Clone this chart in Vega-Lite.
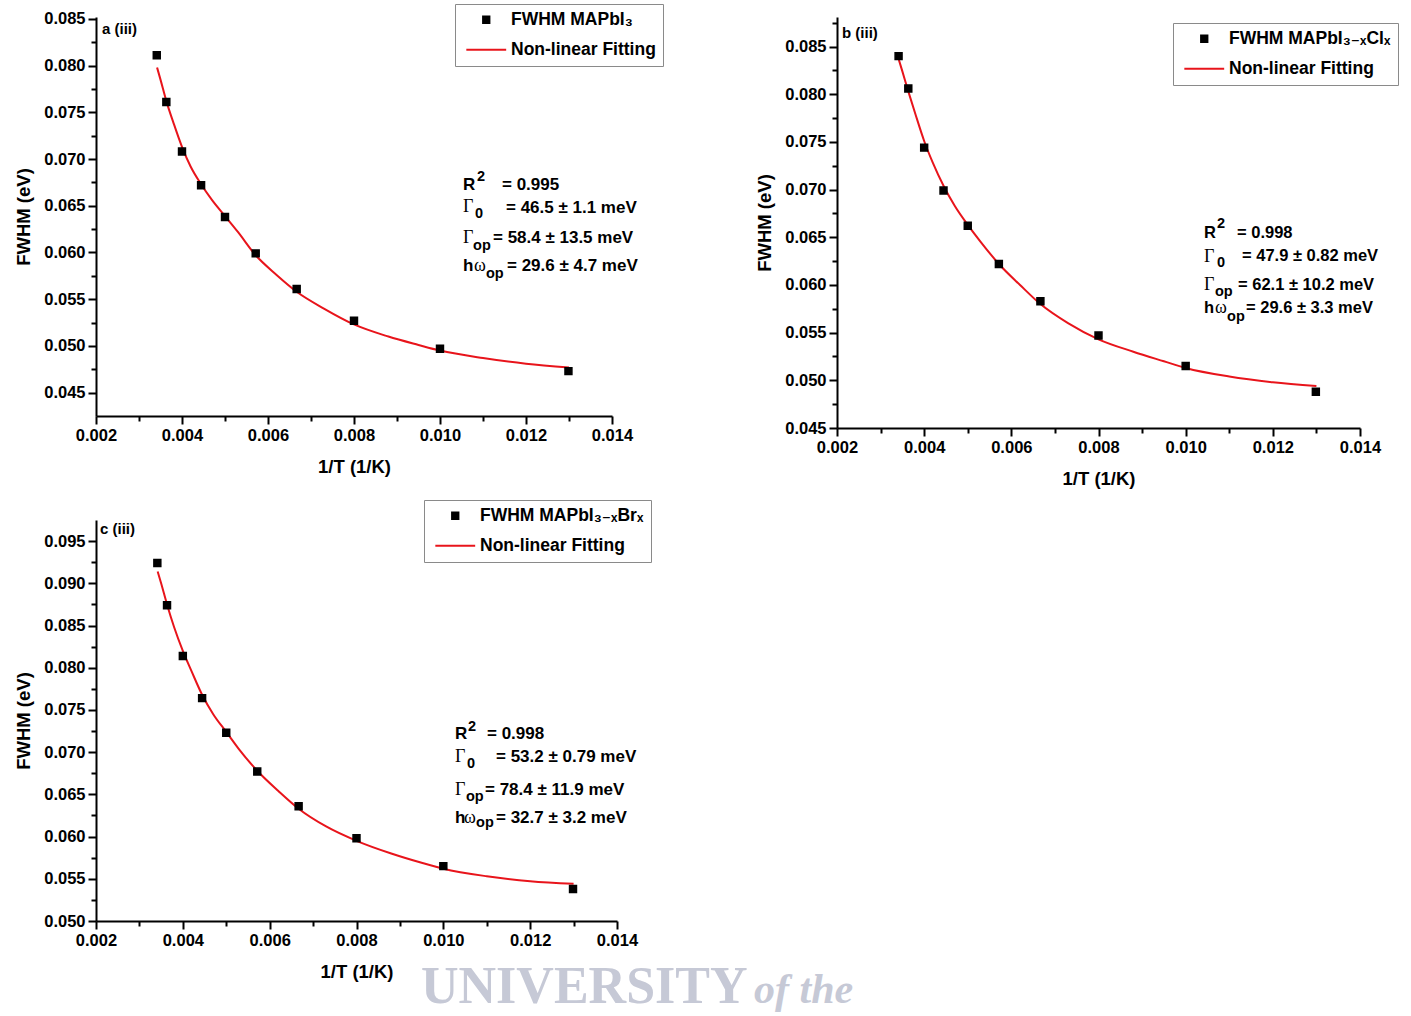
{
"$schema":"https://vega.github.io/schema/vega-lite/v6.json",
"background":"white",
"padding":{"left":14,"top":3,"right":0,"bottom":0},
"bounds":"flush",
"columns":2,
"spacing":{"row":92,"column":220},
"resolve":{"scale":{"color":"independent","stroke":"independent","shape":"independent"},"legend":{"color":"independent","stroke":"independent","shape":"independent"}},
"config":{
 "view":{"stroke":null},
 "axis":{"labelFont":"Liberation Sans","labelFontWeight":"bold","labelFontSize":16.5,"labelColor":"black","titleFont":"Liberation Sans","titleFontWeight":"bold","titleFontSize":18.5,"titleColor":"black","domainColor":"black","domainWidth":2,"tickColor":"black","tickWidth":2,"tickSize":8,"grid":false,"labelPadding":3,"labelFlush":false,"labelOverlap":false},
 "axisX":{"titlePadding":14},
 "axisY":{"titlePadding":10},
 "legend":{"labelFont":"Liberation Sans, DejaVu Sans","labelFontSize":17.5,"labelFontWeight":"bold","labelColor":"black","strokeColor":"#8a8a8a","fillColor":"white","padding":7,"symbolSize":40,"symbolStrokeWidth":2,"symbolOffset":15.5,"labelOffset":16,"rowPadding":11,"labelLimit":400}
},
"datasets":{
 "pa":[{"x":0.003413,"y":0.0811,"s":"FWHM MAPbI₃"},{"x":0.003636,"y":0.0761,"s":"FWHM MAPbI₃"},{"x":0.004,"y":0.0708,"s":"FWHM MAPbI₃"},{"x":0.004444,"y":0.0672,"s":"FWHM MAPbI₃"},{"x":0.005,"y":0.0638,"s":"FWHM MAPbI₃"},{"x":0.005714,"y":0.0599,"s":"FWHM MAPbI₃"},{"x":0.006667,"y":0.0561,"s":"FWHM MAPbI₃"},{"x":0.008,"y":0.0527,"s":"FWHM MAPbI₃"},{"x":0.01,"y":0.0497,"s":"FWHM MAPbI₃"},{"x":0.012987,"y":0.0473,"s":"FWHM MAPbI₃"}],
 "pb":[{"x":0.003413,"y":0.0840,"s":"FWHM MAPbI₃₋ₓClₓ"},{"x":0.003636,"y":0.0806,"s":"FWHM MAPbI₃₋ₓClₓ"},{"x":0.004,"y":0.0744,"s":"FWHM MAPbI₃₋ₓClₓ"},{"x":0.004444,"y":0.0699,"s":"FWHM MAPbI₃₋ₓClₓ"},{"x":0.005,"y":0.0662,"s":"FWHM MAPbI₃₋ₓClₓ"},{"x":0.005714,"y":0.0622,"s":"FWHM MAPbI₃₋ₓClₓ"},{"x":0.006667,"y":0.0583,"s":"FWHM MAPbI₃₋ₓClₓ"},{"x":0.008,"y":0.0547,"s":"FWHM MAPbI₃₋ₓClₓ"},{"x":0.01,"y":0.0515,"s":"FWHM MAPbI₃₋ₓClₓ"},{"x":0.012987,"y":0.0488,"s":"FWHM MAPbI₃₋ₓClₓ"}],
 "pc":[{"x":0.003413,"y":0.0924,"s":"FWHM MAPbI₃₋ₓBrₓ"},{"x":0.003636,"y":0.0874,"s":"FWHM MAPbI₃₋ₓBrₓ"},{"x":0.004,"y":0.0814,"s":"FWHM MAPbI₃₋ₓBrₓ"},{"x":0.004444,"y":0.0764,"s":"FWHM MAPbI₃₋ₓBrₓ"},{"x":0.005,"y":0.0723,"s":"FWHM MAPbI₃₋ₓBrₓ"},{"x":0.005714,"y":0.0677,"s":"FWHM MAPbI₃₋ₓBrₓ"},{"x":0.006667,"y":0.0636,"s":"FWHM MAPbI₃₋ₓBrₓ"},{"x":0.008,"y":0.0598,"s":"FWHM MAPbI₃₋ₓBrₓ"},{"x":0.01,"y":0.0565,"s":"FWHM MAPbI₃₋ₓBrₓ"},{"x":0.012987,"y":0.0538,"s":"FWHM MAPbI₃₋ₓBrₓ"}],
 "fa":[{"x":0.00342,"y":0.0798},{"x":0.0035,"y":0.0785},{"x":0.003636,"y":0.0762},{"x":0.0038,"y":0.0739},{"x":0.004,"y":0.0713},{"x":0.0042,"y":0.0692},{"x":0.004444,"y":0.0673},{"x":0.0047,"y":0.0656},{"x":0.005,"y":0.0639},{"x":0.0053,"y":0.0622},{"x":0.005714,"y":0.0597},{"x":0.0062,"y":0.0576},{"x":0.006667,"y":0.0558},{"x":0.0073,"y":0.0540},{"x":0.008,"y":0.0523},{"x":0.0088,"y":0.0510},{"x":0.0095,"y":0.0501},{"x":0.010,"y":0.0495},{"x":0.011,"y":0.0487},{"x":0.012,"y":0.0481},{"x":0.013,"y":0.0477}],
 "fb":[{"x":0.00342,"y":0.0836},{"x":0.0035,"y":0.0824},{"x":0.003636,"y":0.0803},{"x":0.0038,"y":0.0779},{"x":0.004,"y":0.0751},{"x":0.0042,"y":0.0728},{"x":0.004444,"y":0.0704},{"x":0.0047,"y":0.0683},{"x":0.005,"y":0.0663},{"x":0.0053,"y":0.0645},{"x":0.005714,"y":0.0622},{"x":0.0062,"y":0.0600},{"x":0.006667,"y":0.0580},{"x":0.0073,"y":0.0560},{"x":0.008,"y":0.0543},{"x":0.0088,"y":0.0530},{"x":0.0095,"y":0.0520},{"x":0.010,"y":0.0513},{"x":0.011,"y":0.0504},{"x":0.012,"y":0.0498},{"x":0.013,"y":0.0494}],
 "fc":[{"x":0.00342,"y":0.0914},{"x":0.0035,"y":0.0900},{"x":0.003636,"y":0.0875},{"x":0.0038,"y":0.0848},{"x":0.004,"y":0.0820},{"x":0.0042,"y":0.0796},{"x":0.004444,"y":0.0768},{"x":0.0047,"y":0.0745},{"x":0.005,"y":0.0724},{"x":0.0053,"y":0.0703},{"x":0.005714,"y":0.0678},{"x":0.0062,"y":0.0654},{"x":0.006667,"y":0.0633},{"x":0.0073,"y":0.0612},{"x":0.008,"y":0.0595},{"x":0.0088,"y":0.0580},{"x":0.0095,"y":0.0569},{"x":0.010,"y":0.0562},{"x":0.011,"y":0.0553},{"x":0.012,"y":0.0547},{"x":0.013,"y":0.0544}],
 "ta":[{"x":0.00214,"y":0.08343,"t":"a (iii)","f":"lab"},{"x":0.010535,"y":0.066723,"t":"R","f":"sans"},{"x":0.010861,"y":0.067687,"t":"2","f":"sub"},{"x":0.011442,"y":0.066723,"t":"= 0.995","f":"sans"},{"x":0.010535,"y":0.064368,"t":"Γ","f":"serif"},{"x":0.010814,"y":0.063725,"t":"0","f":"sub"},{"x":0.011535,"y":0.064261,"t":"= 46.5 ± 1.1 meV","f":"sans"},{"x":0.010535,"y":0.061048,"t":"Γ","f":"serif"},{"x":0.010768,"y":0.060298,"t":"op","f":"sub"},{"x":0.011232,"y":0.061048,"t":"= 58.4 ± 13.5 meV","f":"sans"},{"x":0.010535,"y":0.05805,"t":"h","f":"sans"},{"x":0.010791,"y":0.05805,"t":"ω","f":"serif"},{"x":0.01107,"y":0.0573,"t":"op","f":"sub"},{"x":0.011558,"y":0.05805,"t":"= 29.6 ± 4.7 meV","f":"sans"}],
 "tb":[{"x":0.002115,"y":0.085944,"t":"b (iii)","f":"lab"},{"x":0.010421,"y":0.064962,"t":"R","f":"sans"},{"x":0.010719,"y":0.066011,"t":"2","f":"sub"},{"x":0.011178,"y":0.064962,"t":"= 0.998","f":"sans"},{"x":0.010421,"y":0.062444,"t":"Γ","f":"serif"},{"x":0.010719,"y":0.06192,"t":"0","f":"sub"},{"x":0.011293,"y":0.062549,"t":"= 47.9 ± 0.82 meV","f":"sans"},{"x":0.010421,"y":0.059507,"t":"Γ","f":"serif"},{"x":0.010673,"y":0.058877,"t":"op","f":"sub"},{"x":0.011201,"y":0.059507,"t":"= 62.1 ± 10.2 meV","f":"sans"},{"x":0.010421,"y":0.057094,"t":"h","f":"sans"},{"x":0.010673,"y":0.057094,"t":"ω","f":"serif"},{"x":0.010949,"y":0.056255,"t":"op","f":"sub"},{"x":0.011385,"y":0.057094,"t":"= 29.6 ± 3.3 meV","f":"sans"}],
 "tc":[{"x":0.002092,"y":0.095793,"t":"c (iii)","f":"lab"},{"x":0.010269,"y":0.071515,"t":"R","f":"sans"},{"x":0.010568,"y":0.072498,"t":"2","f":"sub"},{"x":0.011006,"y":0.071515,"t":"= 0.998","f":"sans"},{"x":0.010269,"y":0.0688,"t":"Γ","f":"serif"},{"x":0.010545,"y":0.068117,"t":"0","f":"sub"},{"x":0.011213,"y":0.0688,"t":"= 53.2 ± 0.79 meV","f":"sans"},{"x":0.010269,"y":0.064883,"t":"Γ","f":"serif"},{"x":0.010522,"y":0.064208,"t":"op","f":"sub"},{"x":0.010960,"y":0.064883,"t":"= 78.4 ± 11.9 meV","f":"sans"},{"x":0.010269,"y":0.06165,"t":"h","f":"sans"},{"x":0.010476,"y":0.06165,"t":"ω","f":"serif"},{"x":0.010753,"y":0.061176,"t":"op","f":"sub"},{"x":0.011213,"y":0.06165,"t":"= 32.7 ± 3.2 meV","f":"sans"},{"x":0.009486,"y":0.040251,"t":"UNIVERSITY","f":"wm"},{"x":0.017156,"y":0.040251,"t":"of the","f":"wmi"}]
},
"concat":[
 {
  "width":516,"height":399,
  "resolve":{"axis":{"x":"independent","y":"independent"}},
  "layer":[
   {"data":{"name":"fa"},"mark":{"type":"line","color":"#e8141b","strokeWidth":2,"interpolate":"monotone"},
    "encoding":{
     "x":{"field":"x","type":"quantitative","scale":{"domain":[0.002,0.014],"nice":false,"zero":false},"axis":{"orient":"bottom","values":[0.003,0.005,0.007,0.009,0.011,0.013],"labels":false,"domain":false,"tickSize":5,"title":null}},
     "y":{"field":"y","type":"quantitative","scale":{"domain":[0.0425,0.0852],"nice":false,"zero":false},"axis":{"orient":"left","values":[0.0475,0.0525,0.0575,0.0625,0.0675,0.0725,0.0775,0.0825],"labels":false,"domain":false,"tickSize":5,"title":null}}}},
   {"data":{"name":"pa"},"mark":{"type":"point","filled":true,"size":48,"strokeWidth":1.5,"opacity":1},
    "encoding":{
     "x":{"field":"x","type":"quantitative","scale":{"domain":[0.002,0.014],"nice":false,"zero":false},"axis":{"orient":"bottom","values":[0.002,0.004,0.006,0.008,0.01,0.012,0.014],"format":".3f","title":"1/T (1/K)"}},
     "y":{"field":"y","type":"quantitative","scale":{"domain":[0.0425,0.0852],"nice":false,"zero":false},"axis":{"orient":"left","values":[0.045,0.05,0.055,0.06,0.065,0.07,0.075,0.08,0.085],"format":".3f","title":"FWHM (eV)"}},
     "color":{"field":"s","type":"nominal","scale":{"domain":["FWHM MAPbI₃","Non-linear Fitting"],"range":["black","#e8141b"]},"legend":{"orient":"none","legendX":359,"legendY":-13,"title":null}},
     "stroke":{"field":"s","type":"nominal","scale":{"domain":["FWHM MAPbI₃","Non-linear Fitting"],"range":["black","#e8141b"]},"legend":{"orient":"none","legendX":359,"legendY":-13,"title":null}},
     "shape":{"field":"s","type":"nominal","scale":{"domain":["FWHM MAPbI₃","Non-linear Fitting"],"range":["square","M-6.3,0H6.3"]},"legend":{"orient":"none","legendX":359,"legendY":-13,"title":null}}}},
   {"data":{"name":"ta"},"transform":[{"filter":"datum.f==='sans'"}],"mark":{"type":"text","align":"left","baseline":"alphabetic","font":"Liberation Sans","fontWeight":"bold","fontSize":17,"color":"black"},
    "encoding":{"x":{"field":"x","type":"quantitative","scale":{"domain":[0.002,0.014],"nice":false,"zero":false},"axis":null},"y":{"field":"y","type":"quantitative","scale":{"domain":[0.0425,0.0852],"nice":false,"zero":false},"axis":null},"text":{"field":"t"}}},
   {"data":{"name":"ta"},"transform":[{"filter":"datum.f==='sub'"}],"mark":{"type":"text","align":"left","baseline":"alphabetic","font":"Liberation Sans","fontWeight":"bold","fontSize":14.5,"color":"black"},
    "encoding":{"x":{"field":"x","type":"quantitative","scale":{"domain":[0.002,0.014],"nice":false,"zero":false},"axis":null},"y":{"field":"y","type":"quantitative","scale":{"domain":[0.0425,0.0852],"nice":false,"zero":false},"axis":null},"text":{"field":"t"}}},
   {"data":{"name":"ta"},"transform":[{"filter":"datum.f==='serif'"}],"mark":{"type":"text","align":"left","baseline":"alphabetic","font":"Liberation Serif","fontWeight":"normal","fontSize":18,"color":"black"},
    "encoding":{"x":{"field":"x","type":"quantitative","scale":{"domain":[0.002,0.014],"nice":false,"zero":false},"axis":null},"y":{"field":"y","type":"quantitative","scale":{"domain":[0.0425,0.0852],"nice":false,"zero":false},"axis":null},"text":{"field":"t"}}},
   {"data":{"name":"ta"},"transform":[{"filter":"datum.f==='lab'"}],"mark":{"type":"text","align":"left","baseline":"alphabetic","font":"Liberation Sans","fontWeight":"bold","fontSize":15,"color":"black"},
    "encoding":{"x":{"field":"x","type":"quantitative","scale":{"domain":[0.002,0.014],"nice":false,"zero":false},"axis":null},"y":{"field":"y","type":"quantitative","scale":{"domain":[0.0425,0.0852],"nice":false,"zero":false},"axis":null},"text":{"field":"t"}}}
  ]
 },
 {
  "width":523,"height":411,
  "resolve":{"axis":{"x":"independent","y":"independent"}},
  "layer":[
   {"data":{"name":"fb"},"mark":{"type":"line","color":"#e8141b","strokeWidth":2,"interpolate":"monotone"},
    "encoding":{
     "x":{"field":"x","type":"quantitative","scale":{"domain":[0.002,0.014],"nice":false,"zero":false},"axis":{"orient":"bottom","values":[0.003,0.005,0.007,0.009,0.011,0.013],"labels":false,"domain":false,"tickSize":5,"title":null}},
     "y":{"field":"y","type":"quantitative","scale":{"domain":[0.045,0.0881],"nice":false,"zero":false},"axis":{"orient":"left","values":[0.0475,0.0525,0.0575,0.0625,0.0675,0.0725,0.0775,0.0825,0.0875],"labels":false,"domain":false,"tickSize":5,"title":null}}}},
   {"data":{"name":"pb"},"mark":{"type":"point","filled":true,"size":48,"strokeWidth":1.5,"opacity":1},
    "encoding":{
     "x":{"field":"x","type":"quantitative","scale":{"domain":[0.002,0.014],"nice":false,"zero":false},"axis":{"orient":"bottom","values":[0.002,0.004,0.006,0.008,0.01,0.012,0.014],"format":".3f","title":"1/T (1/K)"}},
     "y":{"field":"y","type":"quantitative","scale":{"domain":[0.045,0.0881],"nice":false,"zero":false},"axis":{"orient":"left","values":[0.045,0.05,0.055,0.06,0.065,0.07,0.075,0.08,0.085],"format":".3f","title":"FWHM (eV)"}},
     "color":{"field":"s","type":"nominal","scale":{"domain":["FWHM MAPbI₃₋ₓClₓ","Non-linear Fitting"],"range":["black","#e8141b"]},"legend":{"orient":"none","legendX":336,"legendY":6,"title":null}},
     "stroke":{"field":"s","type":"nominal","scale":{"domain":["FWHM MAPbI₃₋ₓClₓ","Non-linear Fitting"],"range":["black","#e8141b"]},"legend":{"orient":"none","legendX":336,"legendY":6,"title":null}},
     "shape":{"field":"s","type":"nominal","scale":{"domain":["FWHM MAPbI₃₋ₓClₓ","Non-linear Fitting"],"range":["square","M-6.3,0H6.3"]},"legend":{"orient":"none","legendX":336,"legendY":6,"title":null}}}},
   {"data":{"name":"tb"},"transform":[{"filter":"datum.f==='sans'"}],"mark":{"type":"text","align":"left","baseline":"alphabetic","font":"Liberation Sans","fontWeight":"bold","fontSize":16.5,"color":"black"},
    "encoding":{"x":{"field":"x","type":"quantitative","scale":{"domain":[0.002,0.014],"nice":false,"zero":false},"axis":null},"y":{"field":"y","type":"quantitative","scale":{"domain":[0.045,0.0881],"nice":false,"zero":false},"axis":null},"text":{"field":"t"}}},
   {"data":{"name":"tb"},"transform":[{"filter":"datum.f==='sub'"}],"mark":{"type":"text","align":"left","baseline":"alphabetic","font":"Liberation Sans","fontWeight":"bold","fontSize":14.5,"color":"black"},
    "encoding":{"x":{"field":"x","type":"quantitative","scale":{"domain":[0.002,0.014],"nice":false,"zero":false},"axis":null},"y":{"field":"y","type":"quantitative","scale":{"domain":[0.045,0.0881],"nice":false,"zero":false},"axis":null},"text":{"field":"t"}}},
   {"data":{"name":"tb"},"transform":[{"filter":"datum.f==='serif'"}],"mark":{"type":"text","align":"left","baseline":"alphabetic","font":"Liberation Serif","fontWeight":"normal","fontSize":18,"color":"black"},
    "encoding":{"x":{"field":"x","type":"quantitative","scale":{"domain":[0.002,0.014],"nice":false,"zero":false},"axis":null},"y":{"field":"y","type":"quantitative","scale":{"domain":[0.045,0.0881],"nice":false,"zero":false},"axis":null},"text":{"field":"t"}}},
   {"data":{"name":"tb"},"transform":[{"filter":"datum.f==='lab'"}],"mark":{"type":"text","align":"left","baseline":"alphabetic","font":"Liberation Sans","fontWeight":"bold","fontSize":15,"color":"black"},
    "encoding":{"x":{"field":"x","type":"quantitative","scale":{"domain":[0.002,0.014],"nice":false,"zero":false},"axis":null},"y":{"field":"y","type":"quantitative","scale":{"domain":[0.045,0.0881],"nice":false,"zero":false},"axis":null},"text":{"field":"t"}}}
  ]
 },
 {
  "width":521,"height":401,
  "resolve":{"axis":{"x":"independent","y":"independent"}},
  "layer":[
   {"data":{"name":"tc"},"transform":[{"filter":"datum.f==='wm'"}],"mark":{"type":"text","align":"left","baseline":"alphabetic","font":"Liberation Serif","fontWeight":"bold","fontSize":52,"color":"#c6c9d6"},
    "encoding":{"x":{"field":"x","type":"quantitative","scale":{"domain":[0.002,0.014],"nice":false,"zero":false},"axis":null},"y":{"field":"y","type":"quantitative","scale":{"domain":[0.05,0.0975],"nice":false,"zero":false},"axis":null},"text":{"field":"t"}}},
   {"data":{"name":"tc"},"transform":[{"filter":"datum.f==='wmi'"}],"mark":{"type":"text","align":"left","baseline":"alphabetic","font":"Liberation Serif","fontWeight":"bold","fontStyle":"italic","fontSize":42,"color":"#c6c9d6"},
    "encoding":{"x":{"field":"x","type":"quantitative","scale":{"domain":[0.002,0.014],"nice":false,"zero":false},"axis":null},"y":{"field":"y","type":"quantitative","scale":{"domain":[0.05,0.0975],"nice":false,"zero":false},"axis":null},"text":{"field":"t"}}},
   {"data":{"name":"fc"},"mark":{"type":"line","color":"#e8141b","strokeWidth":2,"interpolate":"monotone"},
    "encoding":{
     "x":{"field":"x","type":"quantitative","scale":{"domain":[0.002,0.014],"nice":false,"zero":false},"axis":{"orient":"bottom","values":[0.003,0.005,0.007,0.009,0.011,0.013],"labels":false,"domain":false,"tickSize":5,"title":null}},
     "y":{"field":"y","type":"quantitative","scale":{"domain":[0.05,0.0975],"nice":false,"zero":false},"axis":{"orient":"left","values":[0.0525,0.0575,0.0625,0.0675,0.0725,0.0775,0.0825,0.0875,0.0925],"labels":false,"domain":false,"tickSize":5,"title":null}}}},
   {"data":{"name":"pc"},"mark":{"type":"point","filled":true,"size":48,"strokeWidth":1.5,"opacity":1},
    "encoding":{
     "x":{"field":"x","type":"quantitative","scale":{"domain":[0.002,0.014],"nice":false,"zero":false},"axis":{"orient":"bottom","values":[0.002,0.004,0.006,0.008,0.01,0.012,0.014],"format":".3f","title":"1/T (1/K)"}},
     "y":{"field":"y","type":"quantitative","scale":{"domain":[0.05,0.0975],"nice":false,"zero":false},"axis":{"orient":"left","values":[0.05,0.055,0.06,0.065,0.07,0.075,0.08,0.085,0.09,0.095],"format":".3f","title":"FWHM (eV)"}},
     "color":{"field":"s","type":"nominal","scale":{"domain":["FWHM MAPbI₃₋ₓBrₓ","Non-linear Fitting"],"range":["black","#e8141b"]},"legend":{"orient":"none","legendX":328,"legendY":-20,"title":null}},
     "stroke":{"field":"s","type":"nominal","scale":{"domain":["FWHM MAPbI₃₋ₓBrₓ","Non-linear Fitting"],"range":["black","#e8141b"]},"legend":{"orient":"none","legendX":328,"legendY":-20,"title":null}},
     "shape":{"field":"s","type":"nominal","scale":{"domain":["FWHM MAPbI₃₋ₓBrₓ","Non-linear Fitting"],"range":["square","M-6.3,0H6.3"]},"legend":{"orient":"none","legendX":328,"legendY":-20,"title":null}}}},
   {"data":{"name":"tc"},"transform":[{"filter":"datum.f==='sans'"}],"mark":{"type":"text","align":"left","baseline":"alphabetic","font":"Liberation Sans","fontWeight":"bold","fontSize":17,"color":"black"},
    "encoding":{"x":{"field":"x","type":"quantitative","scale":{"domain":[0.002,0.014],"nice":false,"zero":false},"axis":null},"y":{"field":"y","type":"quantitative","scale":{"domain":[0.05,0.0975],"nice":false,"zero":false},"axis":null},"text":{"field":"t"}}},
   {"data":{"name":"tc"},"transform":[{"filter":"datum.f==='sub'"}],"mark":{"type":"text","align":"left","baseline":"alphabetic","font":"Liberation Sans","fontWeight":"bold","fontSize":14.5,"color":"black"},
    "encoding":{"x":{"field":"x","type":"quantitative","scale":{"domain":[0.002,0.014],"nice":false,"zero":false},"axis":null},"y":{"field":"y","type":"quantitative","scale":{"domain":[0.05,0.0975],"nice":false,"zero":false},"axis":null},"text":{"field":"t"}}},
   {"data":{"name":"tc"},"transform":[{"filter":"datum.f==='serif'"}],"mark":{"type":"text","align":"left","baseline":"alphabetic","font":"Liberation Serif","fontWeight":"normal","fontSize":18,"color":"black"},
    "encoding":{"x":{"field":"x","type":"quantitative","scale":{"domain":[0.002,0.014],"nice":false,"zero":false},"axis":null},"y":{"field":"y","type":"quantitative","scale":{"domain":[0.05,0.0975],"nice":false,"zero":false},"axis":null},"text":{"field":"t"}}},
   {"data":{"name":"tc"},"transform":[{"filter":"datum.f==='lab'"}],"mark":{"type":"text","align":"left","baseline":"alphabetic","font":"Liberation Sans","fontWeight":"bold","fontSize":15,"color":"black"},
    "encoding":{"x":{"field":"x","type":"quantitative","scale":{"domain":[0.002,0.014],"nice":false,"zero":false},"axis":null},"y":{"field":"y","type":"quantitative","scale":{"domain":[0.05,0.0975],"nice":false,"zero":false},"axis":null},"text":{"field":"t"}}}
  ]
 }
]
}
